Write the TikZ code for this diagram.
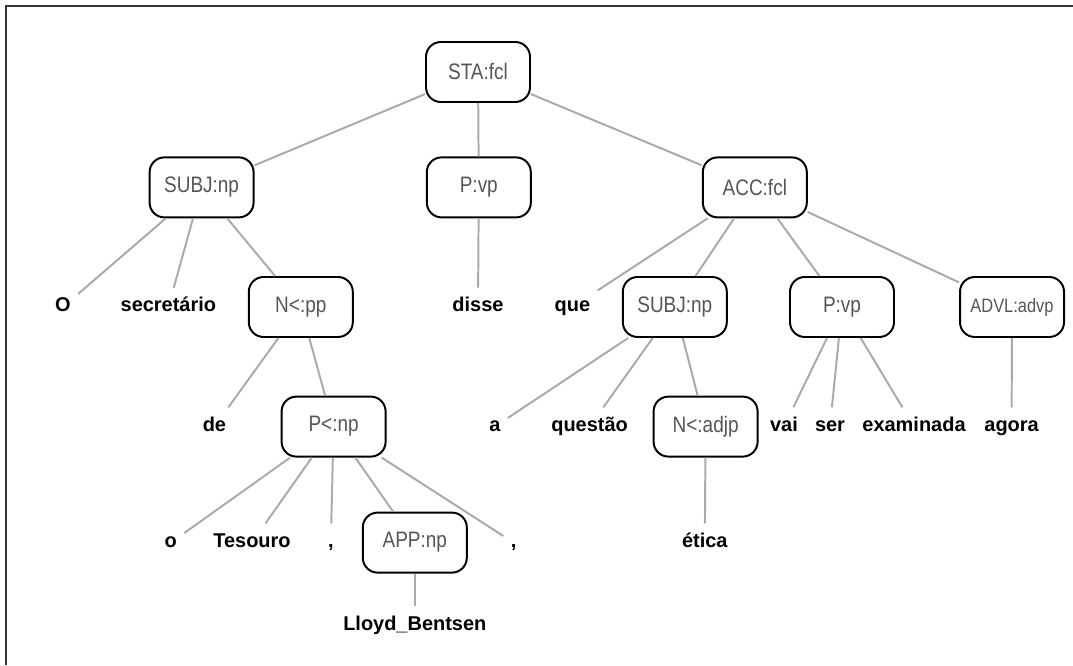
\documentclass[tikz,border=0pt]{standalone}
\usepackage{fontspec}
\setmainfont{Liberation Sans}
\usepackage{tikz}
\usetikzlibrary{positioning}
\usepackage{xcolor}
\definecolor{labelgray}{RGB}{85,85,85}
\definecolor{linegray}{RGB}{170,170,170}
\newcommand{\taglabel}[1]{\scalebox{1}[1.18]{#1}}
\tikzset{
tagbox/.style={draw,rounded corners=0.37cm,line width=1.4pt,minimum width=2.6cm,minimum height=1.5cm,inner sep=2pt,text=labelgray,font=\fontsize{13.5}{16}\selectfont},
word/.style={font=\fontsize{14.2}{17}\selectfont\bfseries,text height=0.35cm,text depth=0.1cm,inner xsep=0.18cm,inner ysep=0.25cm},
branch/.style={draw=linegray,line width=1.4pt}
}

\begin{document}
\begin{tikzpicture}
\useasboundingbox(0,0)rectangle(26.825,16.625);
\draw[line width=0.8pt,black!80](0.15,0)--(0.15,16.475)--(26.825,16.475);% frame

\node[tagbox](sta) at (11.95,14.825) {\taglabel{STA:fcl}};% root

\node[tagbox](subj) at (5.04,11.94) {\taglabel{SUBJ:np}};% first level
\node[tagbox](pvp) at (11.97,11.94) {\taglabel{P:vp}};
\node[tagbox](acc) at (18.87,11.94) {\taglabel{ACC:fcl}};

\node[word](wO) at (1.575,8.95) {O};% second level
\node[word](wsecretario) at (4.21,8.95) {secretário};
\node[tagbox](npp) at (7.52,8.95) {\taglabel{N<:pp}};
\node[word](wdisse) at (11.95,8.95) {disse};
\node[word](wque) at (14.31,8.95) {que};
\node[tagbox](subjb) at (16.87,8.95) {\taglabel{SUBJ:np}};
\node[tagbox](pvpb) at (21.05,8.95) {\taglabel{P:vp}};
\node[tagbox,font=\fontsize{11.7}{14}\selectfont](advl) at (25.3,8.95) {\taglabel{ADVL:advp}};

\node[word](wde) at (5.36,5.96) {de};% third level
\node[tagbox](pnp) at (8.34,5.96) {\taglabel{P<:np}};
\node[word](wa) at (12.37,5.96) {a};
\node[word](wquestao) at (14.74,5.96) {questão};
\node[tagbox](nadjp) at (17.64,5.96) {\taglabel{N<:adjp}};
\node[word](wvai) at (19.6,5.96) {vai};
\node[word](wser) at (20.75,5.96) {ser};
\node[word](wexaminada) at (22.85,5.96) {examinada};
\node[word](wagora) at (25.29,5.96) {agora};

\node[word](wo) at (4.27,3.06) {o};% fourth level
\node[word](wtesouro) at (6.3,3.06) {Tesouro};
\node[word](wcommaa) at (8.27,3.06) {,};
\node[tagbox](app) at (10.37,3.06) {\taglabel{APP:np}};
\node[word](wcommab) at (12.84,3.06) {,};
\node[word](wetica) at (17.62,3.06) {ética};

\node[word](wlloyd) at (10.37,1.0) {Lloyd\_Bentsen};% fifth level

\draw[branch](sta)--(subj);
\draw[branch](sta)--(pvp);
\draw[branch](sta)--(acc);
\draw[branch](subj)--(wO);
\draw[branch](subj)--(wsecretario);
\draw[branch](subj)--(npp);
\draw[branch](pvp)--(wdisse);
\draw[branch](acc)--(wque);
\draw[branch](acc)--(subjb);
\draw[branch](acc)--(pvpb);
\draw[branch](acc)--(advl);
\draw[branch](npp)--(wde);
\draw[branch](npp)--(pnp);
\draw[branch](subjb)--(wa);
\draw[branch](subjb)--(wquestao);
\draw[branch](subjb)--(nadjp);
\draw[branch](pvpb)--(wvai);
\draw[branch](pvpb)--(wser);
\draw[branch](pvpb)--(wexaminada);
\draw[branch](advl)--(wagora);
\draw[branch](pnp)--(wo);
\draw[branch](pnp)--(wtesouro);
\draw[branch](pnp)--(wcommaa);
\draw[branch](pnp)--(app);
\draw[branch](pnp)--(wcommab);
\draw[branch](nadjp)--(wetica);
\draw[branch](app)--(wlloyd);

\end{tikzpicture}
\end{document}
